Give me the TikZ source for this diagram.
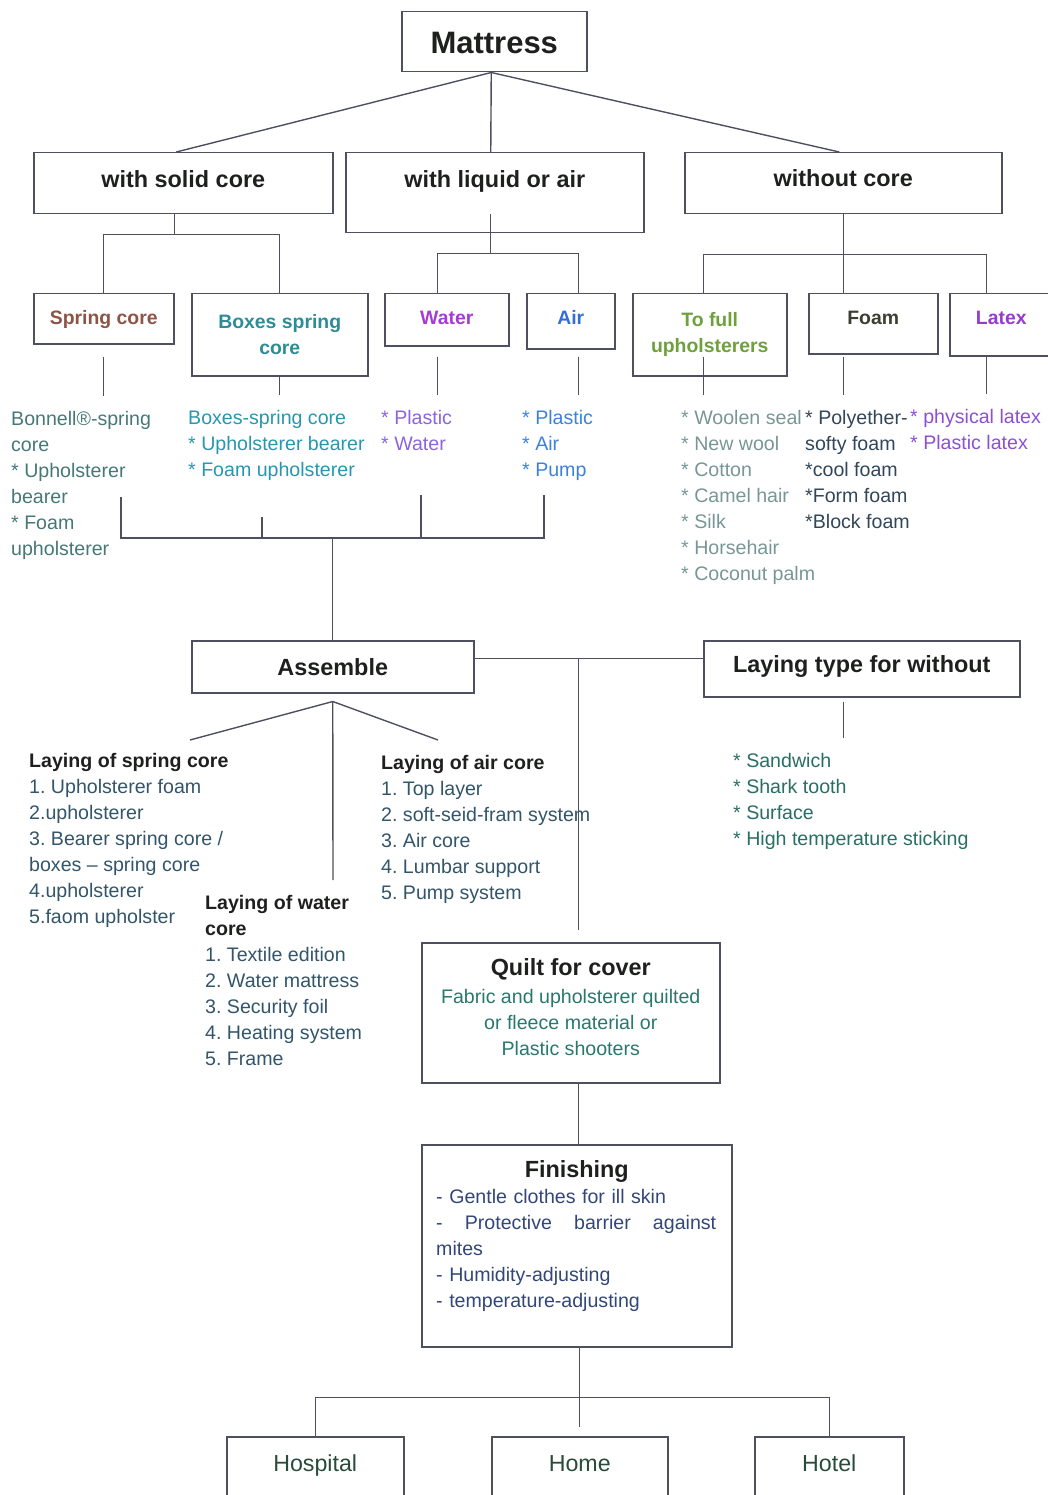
\documentclass[tikz,border=0pt]{standalone}
\usepackage{fontspec}
\setmainfont{Liberation Sans}
\usepackage{tikz}
\usetikzlibrary{positioning}

\definecolor{linec}{RGB}{78,80,96}
\definecolor{lblc}{RGB}{30,32,30}
\definecolor{springc}{RGB}{140,85,70}
\definecolor{bspringc}{RGB}{45,140,150}
\definecolor{waterc}{RGB}{165,60,210}
\definecolor{airc}{RGB}{50,110,215}
\definecolor{tofullc}{RGB}{110,160,60}
\definecolor{foamc}{RGB}{60,62,50}
\definecolor{latexc}{RGB}{150,60,205}
\definecolor{bonnellc}{RGB}{70,120,120}
\definecolor{boxesc}{RGB}{40,150,175}
\definecolor{plasticc}{RGB}{140,100,220}
\definecolor{pumpc}{RGB}{60,130,220}
\definecolor{woolc}{RGB}{120,150,150}
\definecolor{polyc}{RGB}{50,70,90}
\definecolor{physc}{RGB}{140,80,210}
\definecolor{layc}{RGB}{50,85,105}
\definecolor{sandc}{RGB}{40,110,100}
\definecolor{quiltc}{RGB}{40,120,110}
\definecolor{finc}{RGB}{50,70,120}
\definecolor{outc}{RGB}{40,75,60}

\begin{document}
\begin{tikzpicture}[x=1pt, y=-1pt,
    box/.style={draw=linec, line width=1.5pt, anchor=north west, inner sep=0pt,
                align=center, text=lblc, font=\bfseries\fontsize{23.4}{28}\selectfont},
    sbox/.style={box, font=\bfseries\fontsize{19.4}{26}\selectfont},
    obox/.style={box, text=outc, font=\fontsize{23.2}{28}\selectfont},
    lst/.style={anchor=north west, inner sep=0pt, align=left,
                font=\fontsize{19.6}{26}\selectfont\frenchspacing},
    txt/.style={inner sep=0pt, align=center, font=\fontsize{19.6}{26}\selectfont},
    ln/.style={draw=linec, line width=1.4pt},
    stub/.style={ln, shorten >=15pt}
  ]
  \useasboundingbox (0,0) rectangle (1048,1495);
  \clip (0,0) rectangle (1048,1495);

  % top levels
  \node[box, font=\bfseries\fontsize{31}{36}\selectfont, minimum width=185pt,
        text height=42pt, text depth=18pt] (mat) at (401,11) {Mattress};
  \node[box, minimum width=299pt, text height=35pt, text depth=26pt] (solid) at (33,152) {with solid core};
  \node[box, minimum width=298pt, text height=35pt, text depth=45pt] (liquid) at (345,152) {with liquid or air};
  \node[box, minimum width=317pt, text height=34pt, text depth=27pt] (nocore) at (684,152) {without core};

  \node[sbox, text=springc, minimum width=140pt, text height=31pt, text depth=19pt] (spring) at (33,293) {Spring core};
  \node[sbox, text=bspringc, minimum width=176pt, minimum height=82pt] (bspring) at (191,293) {Boxes spring\\core};
  \node[sbox, text=waterc, minimum width=124pt, text height=31pt, text depth=21pt] (water) at (384,293) {Water};
  \node[sbox, text=airc, minimum width=88pt, text height=31pt, text depth=24pt] (air) at (526,293) {Air};
  \node[sbox, text=tofullc, minimum width=154pt, minimum height=82pt] (tofull) at (632,293) {To full\\upholsterers};
  \node[sbox, text=foamc, minimum width=129pt, text height=31pt, text depth=29pt] (foam) at (808,293) {Foam};
  \node[sbox, text=latexc, minimum width=103pt, text height=31pt, text depth=31pt] (latex) at (949,293) {Latex};

  % material lists
  \node[lst, text=bonnellc] (lspring) at (11,411) {Bonnell®-spring\\core\\* Upholsterer\\bearer\\* Foam\\upholsterer};
  \node[lst, text=boxesc] (lbspring) at (188,410) {Boxes-spring core\\* Upholsterer bearer\\* Foam upholsterer};
  \node[lst, text=plasticc] (lwater) at (381,410) {* Plastic\\* Water};
  \node[lst, text=pumpc] (lair) at (522,410) {* Plastic\\* Air\\* Pump};
  \node[lst, text=woolc] (ltofull) at (681,410) {* Woolen seal\\* New wool\\* Cotton\\* Camel hair\\* Silk\\* Horsehair\\* Coconut palm};
  \node[lst, text=polyc] (lfoam) at (805,410) {* Polyether-\\softy foam\\*cool foam\\*Form foam\\*Block foam};
  \node[lst, text=physc] (llatex) at (910,409) {* physical latex\\* Plastic latex};

  % assembly
  \node[box, minimum width=282pt, minimum height=52pt] (asm) at (191,640) {Assemble};
  \node[box, minimum width=316pt, text height=32pt, text depth=24pt] (laytype) at (703,640) {Laying type for without};
  \node[lst, text=sandc] (lsand) at (733,753) {* Sandwich\\* Shark tooth\\* Surface\\* High temperature sticking};

  \node[lst, text=layc] (layspring) at (29,753) {\textcolor{lblc}{\textbf{Laying of spring core}}\\1. Upholsterer foam\\2.upholsterer\\3. Bearer spring core /\\boxes – spring core\\4.upholsterer\\5.faom upholster};
  \node[lst, text=layc] (laywater) at (205,895) {\textcolor{lblc}{\textbf{Laying of water}}\\\textcolor{lblc}{\textbf{core}}\\1. Textile edition\\2. Water mattress\\3. Security foil\\4. Heating system\\5. Frame};
  \node[lst, text=layc] (layair) at (381,755) {\textcolor{lblc}{\textbf{Laying of air core}}\\1. Top layer\\2. soft-seid-fram system\\3. Air core\\4. Lumbar support\\5. Pump system};

  % cover and finishing
  \node[box, minimum width=298pt, minimum height=140pt] (quilt) at (421,942) {};
  \node[txt, text=quiltc, below=16pt of quilt.north] (quilttxt)
    {{\fontsize{23.4}{28}\selectfont\bfseries\color{lblc}Quilt for cover}\\[2pt]
     Fabric and upholsterer quilted\\or fleece material or\\Plastic shooters};
  \node[box, minimum width=310pt, minimum height=202pt] (fin) at (421,1144) {};
  \node[txt, text=lblc, font=\bfseries\fontsize{23.4}{28}\selectfont, below=16pt of fin.north] (fintitle) {Finishing};
  \node[lst, text=finc, text width=282pt] (finbody) at (436,1189)
    {- Gentle clothes for ill skin\\\makebox[280pt][s]{-\hfill Protective\hfill barrier\hfill against}\\mites\\- Humidity-adjusting\\- temperature-adjusting};

  \node[obox, minimum width=177pt, text height=35pt, text depth=45pt] (hosp) at (226,1436) {Hospital};
  \node[obox, minimum width=176pt, text height=35pt, text depth=45pt] (home) at (491,1436) {Home};
  \node[obox, minimum width=149pt, text height=35pt, text depth=45pt] (hotel) at (754,1436) {Hotel};

  % connectors, top
  \draw[ln] ([xshift=-7pt]solid.north) -- ([xshift=-3pt]mat.south) -- ([xshift=-4pt]nocore.north);
  \draw[ln] ([xshift=-3pt]mat.south) -- ([xshift=-4pt]liquid.north);

  \draw[ln] ([xshift=-9pt]solid.south) -- ++(0,20) coordinate (jsolid);
  \draw[ln] (spring.north) |- (jsolid) -| (bspring.north);
  \draw[ln] ([xshift=-4pt,yshift=19pt]liquid.south) -- ++(0,39) coordinate (jliquid);
  \draw[ln] ([xshift=-9pt]water.north) |- (jliquid) -| ([xshift=8pt]air.north);
  \draw[ln] (nocore.south) -- ([xshift=-30pt]foam.north);
  \draw[ln] ([xshift=-6pt]tofull.north) |- ([yshift=-40pt]nocore.south) -| ([xshift=-15pt]latex.north);

  % stubs to the lists
  \draw[stub, shorten <=12pt] (spring.south) coordinate (s1) -- (s1 |- lspring.north);
  \draw[stub] (bspring.south) coordinate (s2) -- (s2 |- lbspring.north);
  \draw[stub, shorten <=10pt] ([xshift=-9pt]water.south) coordinate (s3) -- (s3 |- lwater.north);
  \draw[stub, shorten <=7pt] ([xshift=8pt]air.south) coordinate (s4) -- (s4 |- lair.north);
  \draw[stub, shorten <=-20pt] ([xshift=-6pt]tofull.south) coordinate (s5) -- (s5 |- ltofull.north);
  \draw[stub, shorten <=2pt] ([xshift=-30pt]foam.south) coordinate (s6) -- (s6 |- lfoam.north);
  \draw[stub] ([xshift=-15pt]latex.south) coordinate (s7) -- (s7 |- llatex.north);
  \draw[stub, shorten <=4pt] ([xshift=-18pt]laytype.south) coordinate (s8) -- (s8 |- lsand.north);

  % gathering into assemble
  \coordinate (g1) at (121,497);
  \coordinate (g2) at (262,517);
  \coordinate (g3) at (421,495);
  \coordinate (g4) at (544,495);
  \coordinate (jbus) at ([yshift=102pt]asm.north);
  \draw[ln] (g1) |- (jbus) -| (g4);
  \draw[ln] (g2) -- (g2 |- jbus);
  \draw[ln] (g3) -- (g3 |- jbus);
  \draw[ln] (jbus) -- (asm.north);

  % fan below assemble
  \coordinate (apex) at ([yshift=-8pt]asm.south);
  \coordinate (f1) at (190,740);
  \coordinate (f2) at (333,880);
  \coordinate (f3) at (438,740);
  \draw[ln] (f1) -- (apex) -- (f3);
  \draw[ln] (apex) -- (f2);

  % assemble to laying type and cover
  \coordinate (jh) at ([yshift=8pt]asm.east);
  \coordinate (qx) at ([xshift=8pt]quilt.north);
  \draw[ln] (jh) -- (jh -| laytype.west);
  \draw[ln, shorten >=12pt] (jh -| qx) -- (qx);
  \draw[ln] (qx |- quilt.south) -- (qx |- fin.north);

  % finishing to use
  \draw[ln] (home.north |- fin.south) -- ([yshift=9pt]home.north);
  \draw[ln] (hosp.north) |- ([yshift=-50pt]fin.south) -| (hotel.north);
\end{tikzpicture}
\end{document}
